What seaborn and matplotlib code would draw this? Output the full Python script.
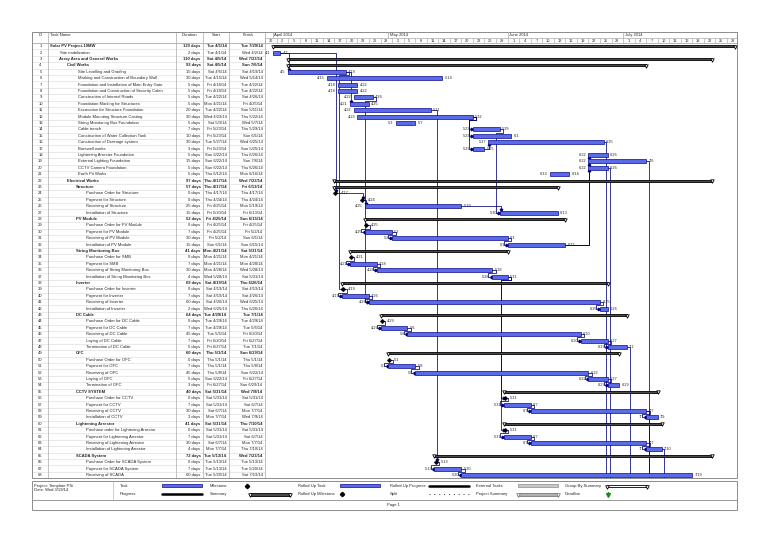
import matplotlib
matplotlib.use("Agg")
import matplotlib.pyplot as plt
from matplotlib.patches import Rectangle
import seaborn as sns
import pandas as pd
import numpy as np
from datetime import date, timedelta

sns.set_style("white")
plt.rcParams['font.family'] = ['Liberation Sans', 'DejaVu Sans']

# ---------------- data ----------------
task_ids = list(range(1, 69))
task_names = [
    "Solar PV Project-10MW", "Site mobilization", "Array Area and General Works", "Civil Works",
    "Site Levelling and Grading", "Marking and Construction of Boundary Wall",
    "Foundation and Installation of Main Entry Gate", "Foundation and Construction of Security Cabin",
    "Construction of Internal Roads", "Foundation Marking for Structures",
    "Excavation for Structure Foundation", "Module Mounting Structure Casting",
    "String Monitoring Box Foundation", "Cable trench", "Construction of Water Collection Tank",
    "Construction of Drainage system", "Borewell works", "Lightening Arrester Foundation",
    "External Lighting Foundation", "CCTV Camera Foundation", "Earth Pit Works",
    "Electrical Works", "Structure", "Purchase Order for Structure", "Payment for Structure",
    "Receiving of Structure", "Installation of Structure", "PV Module",
    "Purchase Order for PV Module", "Payment for PV Module", "Receiving of PV Module",
    "Installation of PV Module", "String Monitoring Box", "Purchase Order for SMB",
    "Payment for SMB", "Receiving of String Monitoring Box", "Installation of String Monitoring Box",
    "Inverter", "Purchase Order for Inverter", "Payment for Inverter", "Receiving of Inverter",
    "Installation of Inverter", "DC Cable", "Purchase Order for DC Cable", "Payment for DC Cable",
    "Receiving of DC Cable", "Laying of DC Cable", "Termination of DC Cable", "OFC",
    "Purchase Order for OFC", "Payment for OFC", "Receiving of OFC", "Laying of OFC",
    "Termination of OFC", "CCTV SYSTEM", "Purchase Order for CCTV", "Payment for CCTV",
    "Receiving of CCTV", "Installation of CCTV", "Lightening Arrestor",
    "Purchase order for Lightening Arrestor", "Payment for Lightening Arrestor",
    "Receiving of Lightening Arrestor", "Installation of Lightening Arrestor", "SCADA System",
    "Purchase Order for SCADA System", "Payment for SCADA System", "Receiving of SCADA",
]
durations = [120, 2, 110, 93, 15, 30, 5, 5, 5, 5, 20, 30, 5, 7, 10, 30, 3, 5, 15, 5, 5,
             97, 57, 0, 0, 25, 15,
             52, 0, 7, 30, 15,
             41, 0, 7, 30, 4,
             69, 0, 7, 60, 2,
             64, 0, 7, 45, 7, 5,
             60, 0, 7, 45, 5, 3,
             40, 0, 7, 30, 3,
             41, 0, 7, 30, 4,
             72, 0, 7, 60]
starts = ["Tue 4/1/14", "Tue 4/1/14", "Sat 4/5/14", "Sat 4/5/14", "Sat 4/5/14", "Tue 4/15/14",
          "Fri 4/18/14", "Fri 4/18/14", "Tue 4/22/14", "Mon 4/21/14", "Tue 4/22/14", "Wed 4/23/14",
          "Sat 5/3/14", "Fri 5/23/14", "Fri 5/23/14", "Tue 5/27/14", "Fri 5/23/14", "Sun 6/22/14",
          "Sun 6/22/14", "Sun 6/22/14", "Thu 6/12/14",
          "Thu 4/17/14", "Thu 4/17/14", "Thu 4/17/14", "Thu 4/24/14", "Fri 4/25/14", "Fri 5/30/14",
          "Fri 4/25/14", "Fri 4/25/14", "Fri 4/25/14", "Fri 5/2/14", "Sun 6/1/14",
          "Mon 4/21/14", "Mon 4/21/14", "Mon 4/21/14", "Mon 4/28/14", "Wed 5/28/14",
          "Sat 4/19/14", "Sat 4/19/14", "Sat 4/19/14", "Sat 4/26/14", "Wed 6/25/14",
          "Tue 4/29/14", "Tue 4/29/14", "Tue 4/29/14", "Tue 5/6/14", "Fri 6/20/14", "Fri 6/27/14",
          "Thu 5/1/14", "Thu 5/1/14", "Thu 5/1/14", "Thu 5/8/14", "Sun 6/22/14", "Fri 6/27/14",
          "Sat 5/31/14", "Sat 5/31/14", "Sat 5/31/14", "Sat 6/7/14", "Mon 7/7/14",
          "Sat 5/31/14", "Sat 5/31/14", "Sat 5/31/14", "Sat 6/7/14", "Mon 7/7/14",
          "Tue 5/13/14", "Tue 5/13/14", "Tue 5/13/14", "Tue 5/20/14"]
finishes = ["Tue 7/29/14", "Wed 4/2/14", "Wed 7/23/14", "Sun 7/6/14", "Sat 4/19/14", "Wed 5/14/14",
            "Tue 4/22/14", "Tue 4/22/14", "Sat 4/26/14", "Fri 4/25/14", "Sun 5/11/14", "Thu 5/22/14",
            "Wed 5/7/14", "Thu 5/29/14", "Sun 6/1/14", "Wed 6/25/14", "Sun 5/25/14", "Thu 6/26/14",
            "Sun 7/6/14", "Thu 6/26/14", "Mon 6/16/14",
            "Wed 7/23/14", "Fri 6/13/14", "Thu 4/17/14", "Thu 4/24/14", "Mon 5/19/14", "Fri 6/13/14",
            "Sun 6/15/14", "Fri 4/25/14", "Fri 5/2/14", "Sun 6/1/14", "Sun 6/15/14",
            "Sat 5/31/14", "Mon 4/21/14", "Mon 4/28/14", "Wed 5/28/14", "Sat 5/31/14",
            "Thu 6/26/14", "Sat 4/19/14", "Sat 4/26/14", "Wed 6/25/14", "Thu 6/26/14",
            "Tue 7/1/14", "Tue 4/29/14", "Tue 5/6/14", "Fri 6/20/14", "Fri 6/27/14", "Tue 7/1/14",
            "Sun 6/29/14", "Thu 5/1/14", "Thu 5/8/14", "Sun 6/22/14", "Fri 6/27/14", "Sun 6/29/14",
            "Wed 7/9/14", "Sat 5/31/14", "Sat 6/7/14", "Mon 7/7/14", "Wed 7/9/14",
            "Thu 7/10/14", "Sat 5/31/14", "Sat 6/7/14", "Mon 7/7/14", "Thu 7/10/14",
            "Wed 7/23/14", "Tue 5/13/14", "Tue 5/20/14", "Sat 7/19/14"]
levels = [0, 1, 1, 2] + [3] * 17 + [2, 3, 4, 4, 4, 4] + [3, 4, 4, 4, 4] + [3, 4, 4, 4, 4] + \
         [3, 4, 4, 4, 4] + [3, 4, 4, 4, 4, 4] + [3, 4, 4, 4, 4, 4] + [3, 4, 4, 4, 4] + \
         [3, 4, 4, 4, 4] + [3, 4, 4, 4]
summary_ids = [1, 3, 4, 22, 23, 28, 33, 38, 43, 49, 55, 60, 65]
links = [(2, 5), (2, 24), (5, 10), (5, 39), (9, 41), (11, 66), (12, 14), (12, 15), (12, 17),
         (17, 16), (14, 27), (37, 56), (37, 61), (32, 18), (32, 19), (32, 20),
         (24, 25), (25, 26), (26, 27), (29, 30), (30, 31), (31, 32), (34, 35), (35, 36), (36, 37),
         (39, 40), (40, 41), (41, 42), (44, 45), (45, 46), (46, 47), (47, 48),
         (50, 51), (51, 52), (52, 53), (53, 54), (56, 57), (57, 58), (58, 59),
         (61, 62), (62, 63), (63, 64), (66, 67), (67, 68)]
offpage_links = [16, 20, 48, 19, 58, 64]
month_labels = ["April 2014", "May 2014", "June 2014", "July 2014"]
month_firsts = ["4/1/14", "5/1/14", "6/1/14", "7/1/14"]
header_labels = ["ID", "Task Name", "Duration", "Start", "Finish"]
legend_left = ["Project: Template PSi", "Date: Wed 3/19/14"]

# ---------------- layout ----------------
W, H = 768, 544
TOP, HDR, BOT = 32, 43, 478.2
N = len(task_ids)
ROWH = (BOT - HDR) / N
X0, XG, XR = 32, 265, 737
PX_PER_DAY = 3.85
cols = [32, 48, 176, 203, 229, 265]
GRID = '#a9a9a9'
BLUE = '#5a6ae8'
NAVY = '#0c0c8c'
LINK = '#00007a'
FS = 3.0
BASE = date(2014, 3, 30)


def box(x0, y0, x1, y1):
    return [x0 / W, 1 - y1 / H, (x1 - x0) / W, (y1 - y0) / H]


def to_day(s):
    part = s.split()[-1]
    m, d, y = part.split('/')
    return (date(2000 + int(y), int(m), int(d)) - BASE).days


def short(s):
    m, d, _ = s.split()[-1].split('/')
    return f"{m}/{d}"


df = pd.DataFrame(dict(id=task_ids, name=task_names, dur=durations, start=starts,
                       finish=finishes, level=levels))
df['s'] = df.start.map(to_day).astype(float)
df['f'] = df.finish.map(to_day).astype(float)
df['summary'] = df.id.isin(summary_ids)
df['milestone'] = (df.dur == 0) & ~df.summary
df['end'] = np.where(df.summary, df.f + 1, df.s + df.dur)
df['mx'] = df.s + 0.3
df = df.set_index('id', drop=False)

fig = plt.figure(figsize=(W / 100, H / 100), dpi=100)
fig.patch.set_facecolor('white')

# background / table layer in pixel coordinates
bg = fig.add_axes([0, 0, 1, 1])
bg.set_xlim(0, W)
bg.set_ylim(H, 0)
bg.axis('off')

for k in range(1, N):
    y = HDR + k * ROWH
    bg.plot([X0, XG], [y, y], color='#d8d8d8', lw=0.4, zorder=1)
for c in cols:
    bg.plot([c, c], [TOP, BOT], color=GRID, lw=0.5, zorder=2)
bg.plot([X0, XR], [HDR, HDR], color=GRID, lw=0.6, zorder=2)
bg.add_patch(Rectangle((X0, TOP), XR - X0, BOT - TOP, fill=False, ec='#8c8c8c', lw=0.7, zorder=3))

# header
hy = TOP + 2.6
bg.text(40.5, hy, header_labels[0], ha='center', va='center', fontsize=FS)
bg.text(50.5, hy, header_labels[1], ha='left', va='center', fontsize=FS)
bg.text((cols[2] + cols[3]) / 2, hy, header_labels[2], ha='center', va='center', fontsize=FS)
bg.text((cols[3] + cols[4]) / 2, hy, header_labels[3], ha='center', va='center', fontsize=FS)
bg.text((cols[4] + cols[5]) / 2 + 1, hy, header_labels[4], ha='center', va='center', fontsize=FS)

# table rows
for r in df.itertuples():
    y = HDR + (r.id - 0.5) * ROWH
    wt = 'bold' if r.summary else 'normal'
    xname = 50 + 8.7 * r.level if r.summary else 52 + 8.5 * r.level
    bg.text(40.5, y, str(r.id), ha='center', va='center', fontsize=FS)
    bg.text(xname, y, r.name, ha='left', va='center', fontsize=FS, fontweight=wt)
    bg.text(cols[3] - 2.5, y, f"{r.dur} days", ha='right', va='center', fontsize=FS, fontweight=wt)
    bg.text(cols[4] - 2.5, y, r.start, ha='right', va='center', fontsize=FS, fontweight=wt)
    bg.text(cols[5] - 2.5, y, r.finish, ha='right', va='center', fontsize=FS, fontweight=wt)

span = (XR - XG) / PX_PER_DAY

# timescale header
hx = fig.add_axes(box(XG, TOP, XR, HDR))
hx.set_xlim(0, span)
hx.set_ylim(2, 0)
hx.axis('off')
hx.patch.set_visible(False)
hx.plot([0, span], [1, 1], color=GRID, lw=0.5)
for lab, first in zip(month_labels, month_firsts):
    d = to_day(first)
    hx.plot([d, d], [0, 1], color=GRID, lw=0.5)
    hx.text(d + 0.4, 0.55, lab, ha='left', va='center', fontsize=FS)
for d in range(0, int(span) + 1, 3):
    hx.plot([d, d], [1, 2], color=GRID, lw=0.45)
    if d + 1.5 < span:
        hx.text(d + 1.5, 1.55, str((BASE + timedelta(days=d)).day), ha='center', va='center',
                fontsize=FS - 0.2)

# gantt
ax = fig.add_axes(box(XG, HDR, XR, BOT))
ax.patch.set_visible(False)

tasks = df[~df.summary & ~df.milestone]
summ = df[df.summary]
miles = df[df.milestone]

ax.barh(tasks.id, tasks.dur, left=tasks.s, height=0.6, color=BLUE, edgecolor=NAVY,
        linewidth=0.5, zorder=4)
ax.barh(summ.id, summ.end - summ.s, left=summ.s, height=0.32, color='#4a4a4a',
        edgecolor='black', linewidth=0.6, zorder=4)
ax.scatter(summ.s, summ.id + 0.1, marker='v', s=6, facecolor='white', edgecolor='black',
           linewidth=0.6, zorder=5)
ax.scatter(summ.end, summ.id + 0.1, marker='v', s=6, facecolor='white', edgecolor='black',
           linewidth=0.6, zorder=5)
sns.scatterplot(data=miles, x='mx', y='id', marker='D', s=6, color='black', edgecolor='black',
                ax=ax, legend=False, zorder=6)
ax.set_xlim(0, span)
ax.set_ylim(N + 0.5, 0.5)
ax.axis('off')

LFS = 2.8
for r in tasks.itertuples():
    ax.text(r.s - 0.6, r.id, short(r.start), ha='right', va='center', fontsize=LFS, zorder=6)
    ax.text(r.s + r.dur + 0.6, r.id, short(r.finish), ha='left', va='center', fontsize=LFS, zorder=6)
for r in miles.itertuples():
    ax.text(r.mx + 1.3, r.id, short(r.start), ha='left', va='center', fontsize=LFS, zorder=6)


def pend(i):
    r = df.loc[i]
    return r.mx if r.milestone else r.end


def sstart(i):
    r = df.loc[i]
    return r.mx if r.milestone else r.s


for p, s in links:
    xf, xs = pend(p), sstart(s)
    down = s > p
    sg = 1 if down else -1
    if xs >= xf + 0.5:
        ye = s - sg * 0.34
        ax.plot([xf, xs + 0.25, xs + 0.25], [p, p, ye], color=LINK, lw=0.55, zorder=3)
        ax.plot([xs + 0.25], [ye], marker='v' if down else '^', ms=1.8, color=LINK, zorder=3)
    else:
        xa, xb = xf + 0.9, xs - 1.0
        ym = p + sg * 0.5
        ax.plot([xf, xa, xa, xb, xb, xs - 0.15], [p, p, ym, ym, s, s], color=LINK, lw=0.55, zorder=3)
        ax.plot([xs - 0.15], [s], marker='>', ms=1.8, color=LINK, zorder=3)

for p in offpage_links:
    xf = pend(p)
    ax.plot([xf, xf + 0.7, xf + 0.7], [p, p, N + 0.5], color=LINK, lw=0.55, zorder=2)

# ---------------- legend / footer ----------------
LT, LB, FB = 481, 500, 510
bg.add_patch(Rectangle((X0, LT), XR - X0, FB - LT, fill=False, ec='#8c8c8c', lw=0.7))
bg.plot([X0, XR], [LB, LB], color='#8c8c8c', lw=0.6)
bg.plot([113, 113], [LT, LB], color='#bbbbbb', lw=0.5)
r1, r2 = 485.7, 494.3
bg.text(34, r1, legend_left[0], ha='left', va='center', fontsize=FS)
bg.text(34, r1 + 4.2, legend_left[1], ha='left', va='center', fontsize=FS)


def sumbar(x0, x1, y, fc, ec):
    bg.add_patch(Rectangle((x0, y - 1.2), x1 - x0, 2.4, fc=fc, ec=ec, lw=0.6))
    bg.plot([x0, x1], [y + 0.9, y + 0.9], ls='none', marker='v', ms=2.6, mfc='white', mec=ec, mew=0.6)


bg.text(120, r1, "Task", ha='left', va='center', fontsize=FS)
bg.add_patch(Rectangle((162, r1 - 1.7), 40, 3.4, fc=BLUE, ec=NAVY, lw=0.5))
bg.text(120, r2, "Progress", ha='left', va='center', fontsize=FS)
bg.plot([162, 202], [r2, r2], color='black', lw=1.8)
bg.text(210, r1, "Milestone", ha='left', va='center', fontsize=FS)
bg.plot([247], [r1], marker='D', ms=2.2, color='black')
bg.text(210, r2, "Summary", ha='left', va='center', fontsize=FS)
sumbar(250, 290, r2, '#4a4a4a', 'black')
bg.text(298, r1, "Rolled Up Task", ha='left', va='center', fontsize=FS)
bg.add_patch(Rectangle((340, r1 - 1.7), 40, 3.4, fc=BLUE, ec=NAVY, lw=0.5))
bg.text(298, r2, "Rolled Up Milestone", ha='left', va='center', fontsize=FS)
bg.plot([342], [r2], marker='D', ms=2.2, color='black')
bg.text(390, r1, "Rolled Up Progress", ha='left', va='center', fontsize=FS)
bg.plot([429, 469], [r1, r1], color='black', lw=1.8)
bg.text(390, r2, "Split", ha='left', va='center', fontsize=FS)
bg.plot([429, 469], [r2, r2], color='#333333', lw=0.7, ls=(0, (1, 4)))
bg.text(476, r1, "External Tasks", ha='left', va='center', fontsize=FS)
bg.add_patch(Rectangle((518, r1 - 1.5), 40, 3.0, fc='#c8c8c8', ec='#8c8c8c', lw=0.5))
bg.text(476, r2, "Project Summary", ha='left', va='center', fontsize=FS)
sumbar(518, 558, r2, '#b0b0b0', '#7c7c7c')
bg.text(565, r1, "Group By Summary", ha='left', va='center', fontsize=FS)
sumbar(607, 647, r1, 'white', 'black')
bg.text(565, r2, "Deadline", ha='left', va='center', fontsize=FS)
bg.plot([608, 608], [r2 - 2, r2], color='#1e8a1e', lw=0.9)
bg.plot([608], [r2 + 0.6], marker='v', ms=2.8, color='#1e8a1e')
bg.text(393, (LB + FB) / 2, "Page 1", ha='center', va='center', fontsize=FS)

fig.savefig("out.png", dpi=100)
